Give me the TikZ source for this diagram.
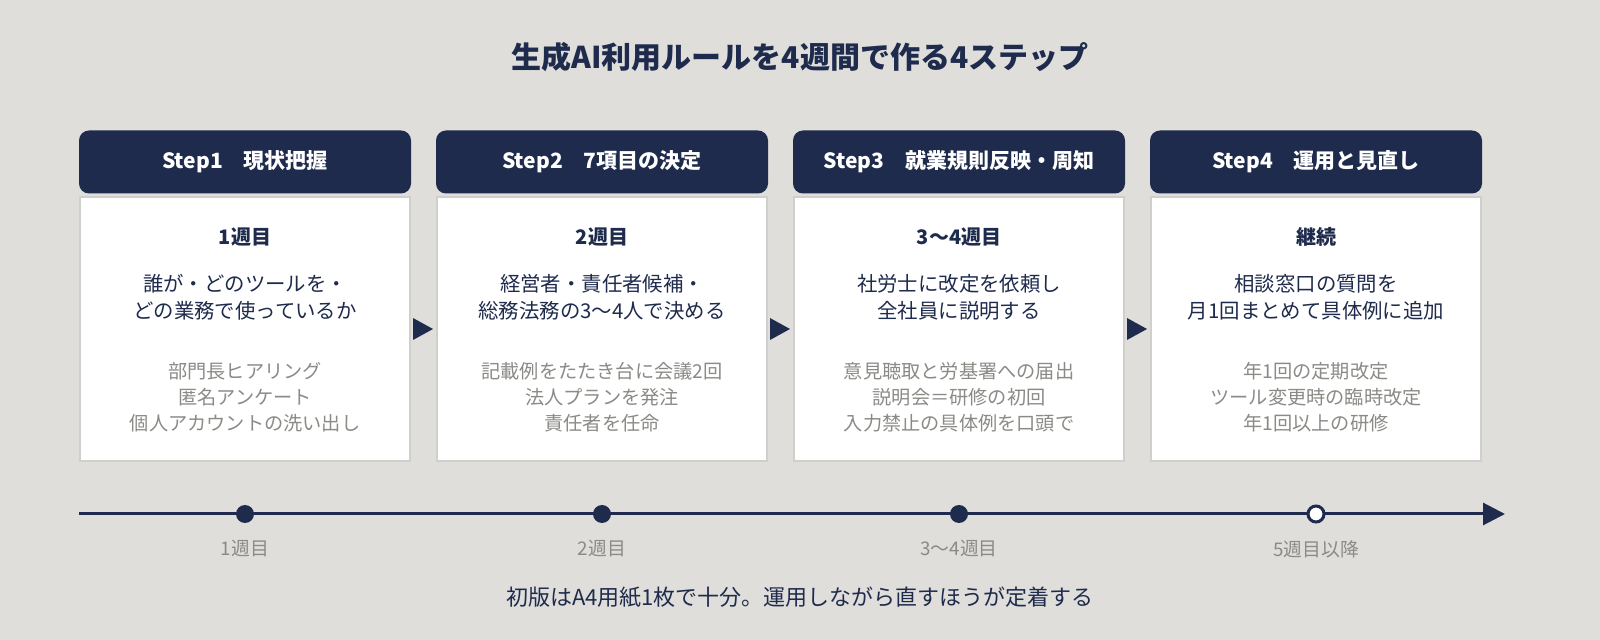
\documentclass[tikz,border=0pt]{standalone}
\usepackage{fontspec}
\setmainfont{Noto Sans CJK JP}
\usetikzlibrary{arrows.meta}
\definecolor{bg}{HTML}{DFDEDA}
\definecolor{navy}{HTML}{1F2B4D}
\definecolor{gr}{HTML}{8A8A86}
\definecolor{bd}{HTML}{CFCFCB}
\begin{document}
\begin{tikzpicture}[x=0.5pt,y=-0.5pt,
 head/.style={fill=navy,rounded corners=5pt,minimum width=166pt,minimum height=31.5pt,text=white,font=\fontsize{10.5}{12}\selectfont\bfseries,inner sep=0},
 body/.style={fill=white,draw=bd,line width=1pt,minimum width=165pt,minimum height=132pt,inner sep=0},
 wk/.style={text=navy,font=\fontsize{10}{12}\selectfont\bfseries},
 main/.style={text=navy,align=center,font=\fontsize{10.2}{13.5}\selectfont},
 sub/.style={text=gr,align=center,font=\fontsize{9.6}{13}\selectfont},
 dot/.style={circle,fill=navy,inner sep=0,minimum size=9pt},
 hdot/.style={circle,fill=white,draw=navy,line width=1.5pt,inner sep=0,minimum size=8pt},
 tl/.style={text=gr,font=\fontsize{9.4}{11}\selectfont}]
\fill[bg] (0,0) rectangle (1600,640);
\node[text=navy,font=\fontsize{15}{17}\selectfont\bfseries] (title) at (800,57) {生成AI利用ルールを4週間で作る4ステップ};
\foreach \i/\h/\w/\m/\s in {
 1/{Step1\quad 現状把握}/{1週目}/{誰が・どのツールを・\\どの業務で使っているか}/{部門長ヒアリング\\匿名アンケート\\個人アカウントの洗い出し},
 2/{Step2\quad 7項目の決定}/{2週目}/{経営者・責任者候補・\\総務法務の3〜4人で決める}/{記載例をたたき台に会議2回\\法人プランを発注\\責任者を任命},
 3/{Step3\quad 就業規則反映・周知}/{3〜4週目}/{社労士に改定を依頼し\\全社員に説明する}/{意見聴取と労基署への届出\\説明会＝研修の初回\\入力禁止の具体例を口頭で},
 4/{Step4\quad 運用と見直し}/{継続}/{相談窓口の質問を\\月1回まとめて具体例に追加}/{年1回の定期改定\\ツール変更時の臨時改定\\年1回以上の研修}}{
 \pgfmathsetmacro\cx{245+357*(\i-1)}
 \node[body] (b\i) at (\cx,329) {};
 \node[head] (h\i) at (\cx,162) {\h};
 \node[wk] (w\i) at (\cx,237) {\w};
 \node[main] (m\i) at (\cx,297) {\m};
 \node[sub] (s\i) at (\cx,397) {\s};
}
\foreach \i in {1,2,3}{
 \pgfmathsetmacro\ax{413+357*(\i-1)}
 \fill[navy] (\ax,318) -- (\ax+20,329) -- (\ax,340) -- cycle;
}
\coordinate (t0) at (79,514);
\coordinate (t1) at (1505,514);
\draw[navy,line width=1.5pt,-{Triangle[length=11pt,width=11pt]}] (t0) -- (t1);
\foreach \i/\l in {1/{1週目},2/{2週目},3/{3〜4週目}}{
 \pgfmathsetmacro\cx{245+357*(\i-1)}
 \node[dot] (d\i) at (\cx,514) {};
 \node[tl] (l\i) at (\cx,549) {\l};
}
\node[hdot] (d4) at (1316,514) {};
\node[tl] (l4) at (1316,549) {5週目以降};
\node[text=navy,font=\fontsize{11}{13}\selectfont] (foot) at (800,597) {初版はA4用紙1枚で十分。運用しながら直すほうが定着する};
\pgfresetboundingbox
\useasboundingbox (0,0) rectangle (1600,640);
\end{tikzpicture}
\end{document}
